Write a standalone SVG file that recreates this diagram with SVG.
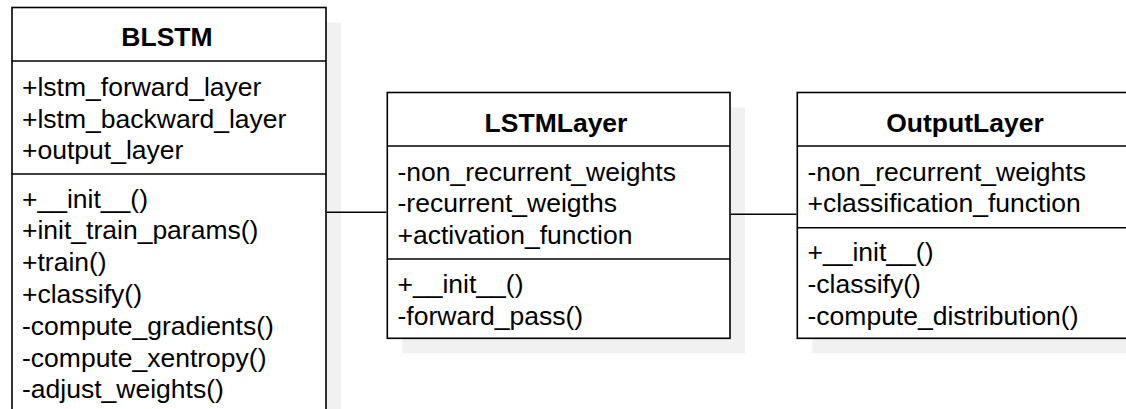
<svg xmlns="http://www.w3.org/2000/svg" width="1126" height="409" viewBox="0 0 1126 409">
<style>
.shadow{fill:#f1f1f1;stroke:none}
.box{fill:#ffffff;stroke:#000000;stroke-width:1.6}
.div{stroke:#000000;stroke-width:1.6;fill:none}
.conn{stroke:#000000;stroke-width:1.6;fill:none}
.title{font-family:"Liberation Sans",Arial,sans-serif;font-size:26.5px;font-weight:bold;fill:#000000;text-anchor:middle}
.item{font-family:"Liberation Sans",Arial,sans-serif;font-size:26.5px;fill:#000000}
</style>
<rect x="0" y="0" width="1126" height="409" fill="#ffffff"/>
<g id="BLSTM">
<rect class="shadow" x="27" y="22.5" width="314" height="420"/>
<rect class="box" x="12" y="7.5" width="314" height="420"/>
<line class="div" x1="12" y1="61" x2="326" y2="61"/>
<line class="div" x1="12" y1="174" x2="326" y2="174"/>
<text class="title" x="167" y="46">BLSTM</text>
<text class="item" x="22" y="96">+lstm_forward_layer</text>
<text class="item" x="22" y="127.5">+lstm_backward_layer</text>
<text class="item" x="22" y="159">+output_layer</text>
<text class="item" x="22" y="207.5">+__init__()</text>
<text class="item" x="22" y="239.3">+init_train_params()</text>
<text class="item" x="22" y="271.1">+train()</text>
<text class="item" x="22" y="302.9">+classify()</text>
<text class="item" x="22" y="334.7">-compute_gradients()</text>
<text class="item" x="22" y="366.5">-compute_xentropy()</text>
<text class="item" x="22" y="398.3">-adjust_weights()</text>
</g>
<g id="LSTMLayer">
<rect class="shadow" x="402.3" y="107.5" width="342.7" height="245.8"/>
<rect class="box" x="387.3" y="92.5" width="342.7" height="245.8"/>
<line class="div" x1="387.3" y1="146" x2="730" y2="146"/>
<line class="div" x1="387.3" y1="259" x2="730" y2="259"/>
<text class="title" x="556" y="131.5">LSTMLayer</text>
<text class="item" x="397.5" y="180.5">-non_recurrent_weights</text>
<text class="item" x="397.5" y="212.3">-recurrent_weigths</text>
<text class="item" x="397.5" y="244.1">+activation_function</text>
<text class="item" x="397.5" y="293">+__init__()</text>
<text class="item" x="397.5" y="324.6">-forward_pass()</text>
</g>
<g id="OutputLayer">
<rect class="shadow" x="812.3" y="107.5" width="340" height="245.8"/>
<rect class="box" x="797.3" y="92.5" width="340" height="245.8"/>
<line class="div" x1="797.3" y1="146" x2="1137.3" y2="146"/>
<line class="div" x1="797.3" y1="227.7" x2="1137.3" y2="227.7"/>
<text class="title" x="965" y="131.5">OutputLayer</text>
<text class="item" x="807.5" y="180.5">-non_recurrent_weights</text>
<text class="item" x="807.5" y="212.3">+classification_function</text>
<text class="item" x="807.5" y="261.2">+__init__()</text>
<text class="item" x="807.5" y="293">-classify()</text>
<text class="item" x="807.5" y="324.8">-compute_distribution()</text>
</g>
<g id="connectors">
<line class="conn" x1="326.8" y1="212.3" x2="386.5" y2="212.3"/>
<line class="conn" x1="730.8" y1="214.3" x2="796.5" y2="214.3"/>
</g>
</svg>
